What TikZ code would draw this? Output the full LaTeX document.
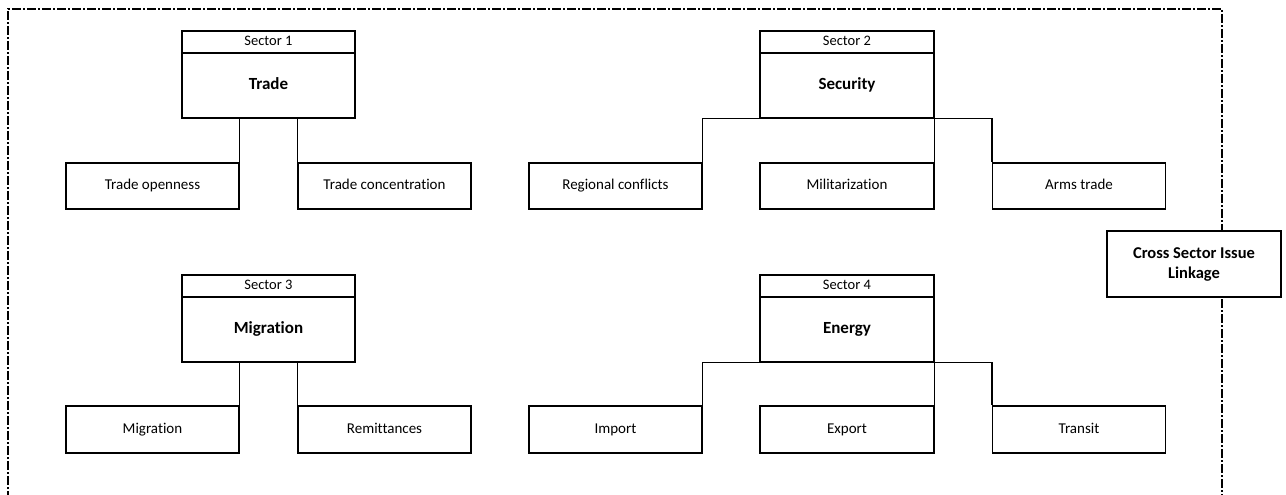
\documentclass[tikz,border=0pt]{standalone}
\usepackage{fontspec}
\setmainfont{Carlito}[Ligatures={NoCommon,NoRare}]
\begin{document}
\begin{tikzpicture}[x=1pt,y=-1pt,
  box/.style={draw=black,line width=1.3pt,fill=white,inner sep=0pt,text height=0.72em,text depth=0em,font=\fontsize{15}{17}\selectfont},
  hdr/.style={box,minimum height=22pt,font=\fontsize{14.5}{16}\selectfont},
  body/.style={box,minimum height=65pt,font=\fontsize{17}{19}\selectfont\bfseries},
  leaf/.style={box,minimum height=46pt,minimum width=173pt},
  link/.style={draw=black,line width=1.3pt},
  frame/.style={draw=black,line width=1.6pt,dash pattern=on 9pt off 2pt on 2pt off 2pt}]
\useasboundingbox (0,0) rectangle (1286,495);
% dashed frame
\coordinate (fbl) at (8,500);
\coordinate (ftl) at (8,9);
\coordinate (ftr) at (1222,9);
\coordinate (fbr) at (1222,500);
\draw[frame] (fbl) -- (ftl) -- (ftr) -- (fbr);
% Sector 1
\node[hdr,minimum width=173pt] (h1) at (268.5,42) {Sector 1};
\node[body,minimum width=173pt] (b1) at (268.5,85.5) {Trade};
\node[leaf] (to) at (152.5,186) {Trade openness};
\node[leaf] (tc) at (384.5,186) {Trade concentration};
\draw[link] (to.north east |- b1.south) -- (to.north east);
\draw[link] (tc.north west |- b1.south) -- (tc.north west);
% Sector 2
\node[hdr,minimum width=174pt] (h2) at (847,42) {Sector 2};
\node[body,minimum width=174pt] (b2) at (847,85.5) {Security};
\node[leaf] (rc) at (615.5,186) {Regional conflicts};
\node[leaf,minimum width=174pt] (mi) at (847,186) {Militarization};
\node[leaf] (at) at (1079,186) {Arms trade};
\draw[link] (rc.north east) |- (b2.south west);
\draw[link] (b2.south east) -| (at.north west);
\draw[link] (b2.south east) -- (mi.north east);
% Sector 3
\node[hdr,minimum width=173pt] (h3) at (268.5,286) {Sector 3};
\node[body,minimum width=173pt] (b3) at (268.5,329.5) {Migration};
\node[leaf,minimum height=47pt] (mg) at (152.5,429.5) {Migration};
\node[leaf,minimum height=47pt] (rm) at (384.5,429.5) {Remittances};
\draw[link] (mg.north east |- b3.south) -- (mg.north east);
\draw[link] (rm.north west |- b3.south) -- (rm.north west);
% Sector 4
\node[hdr,minimum width=174pt] (h4) at (847,286) {Sector 4};
\node[body,minimum width=174pt] (b4) at (847,329.5) {Energy};
\node[leaf,minimum height=47pt] (im) at (615.5,429.5) {Import};
\node[leaf,minimum height=47pt,minimum width=174pt] (ex) at (847,429.5) {Export};
\node[leaf,minimum height=47pt] (tr) at (1079,429.5) {Transit};
\draw[link] (im.north east) |- (b4.south west);
\draw[link] (b4.south east) -| (tr.north west);
\draw[link] (b4.south east) -- (ex.north east);
% Cross sector
\node[draw=black,line width=1.3pt,fill=white,inner sep=0pt,minimum width=174pt,minimum height=66pt,align=center,font=\fontsize{16.5}{20}\selectfont\bfseries] (cs) at (1194,264) {Cross Sector Issue\\Linkage};
\end{tikzpicture}
\end{document}
